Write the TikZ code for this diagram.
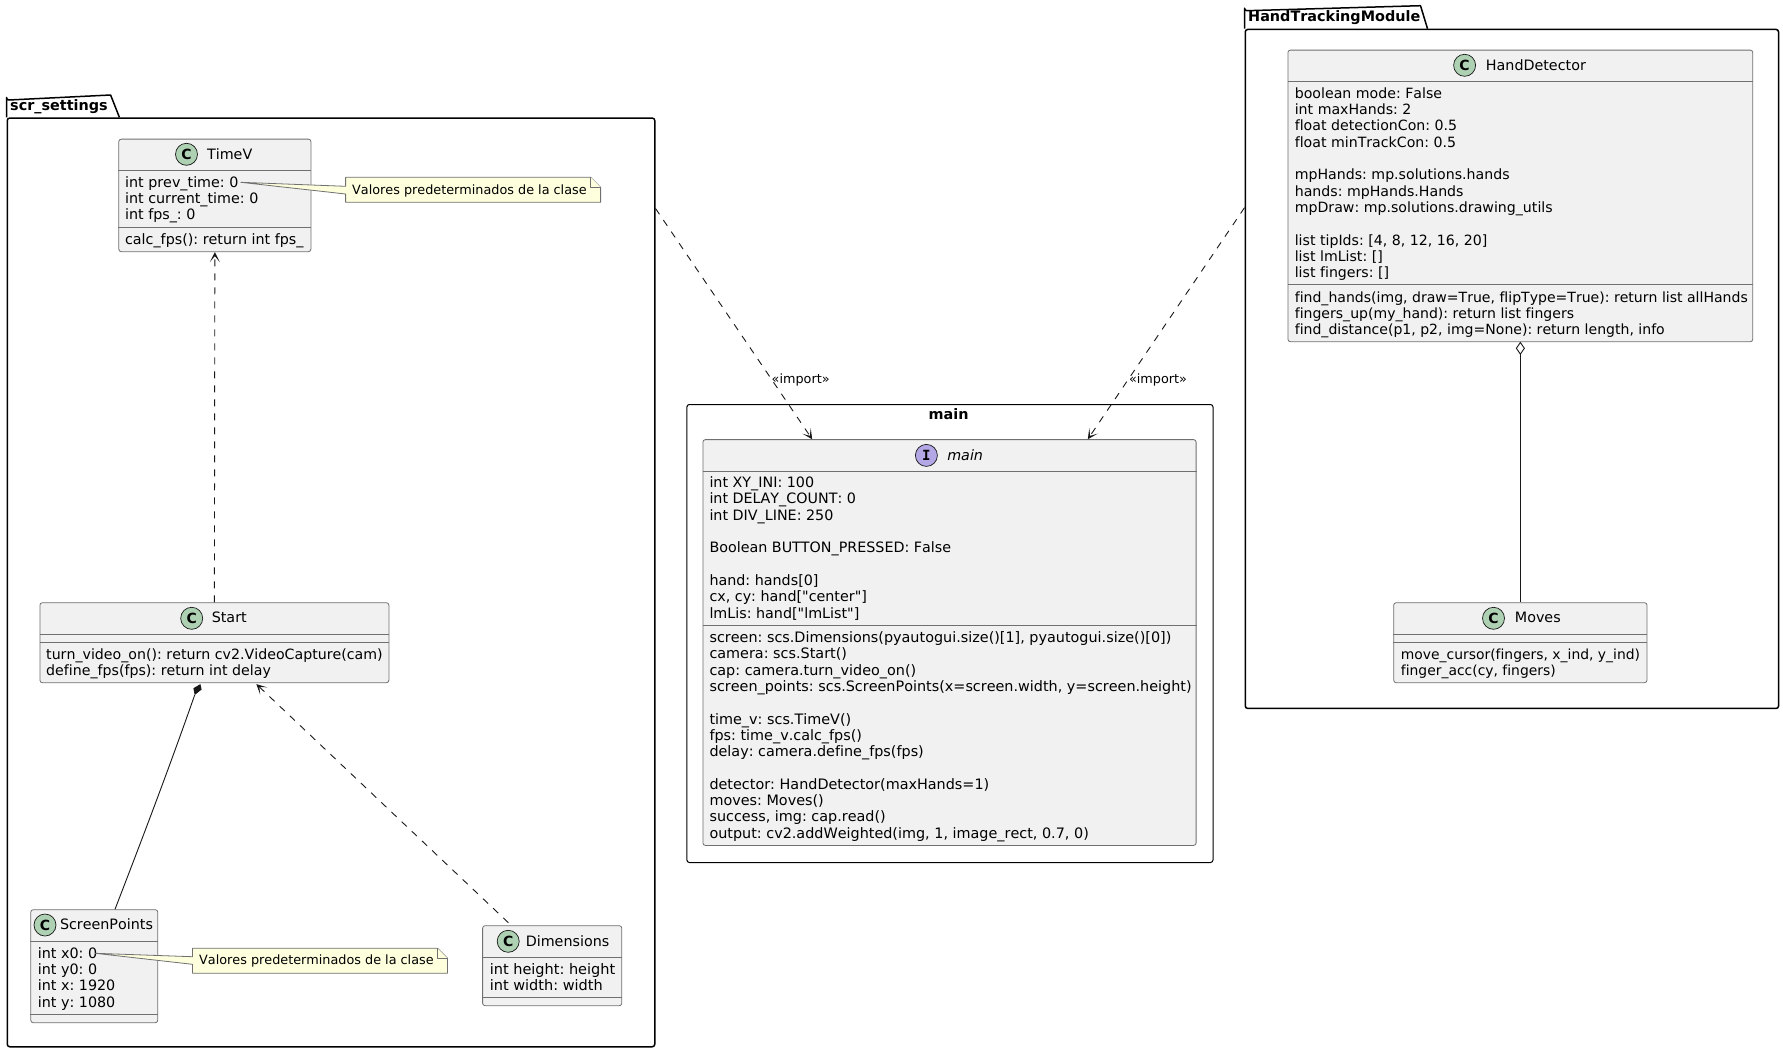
\documentclass[tikz,border=0pt]{standalone}
\usepackage{fontspec}
\usetikzlibrary{arrows.meta,calc}
\newfontfamily\djv{DejaVu Sans}[Ligatures=NoCommon,Kerning=Off]
\newfontfamily\djvm{DejaVu Sans Mono}[Ligatures=NoCommon]
\frenchspacing
\definecolor{ln}{HTML}{181818}
\definecolor{bdr}{HTML}{707070}
\definecolor{boxfill}{HTML}{F1F1F1}
\definecolor{circg}{HTML}{ADD1B2}
\definecolor{circp}{HTML}{B4A7E5}
\definecolor{notef}{HTML}{FEFFDD}
\newcommand\mystrut{\rule[-4pt]{0pt}{16.3pt}}
\tikzset{
  classbox/.style={draw=bdr,line width=.8pt,fill=boxfill,rounded corners=2.5pt,inner sep=0pt,anchor=north west},
  pkgbox/.style={draw=black,line width=1.5pt,rounded corners=2.5pt,inner sep=0pt,anchor=north west},
  mainbox/.style={draw=black,line width=1pt,rounded corners=2.5pt,inner sep=0pt,anchor=north west},
  fs/.style={font=\djv\fontsize{#1}{16.3}\selectfont},
  txt/.style={anchor=north west,inner sep=0pt,align=left,yshift=7.2pt,fs=14.3},
  namet/.style={txt,yshift=-1pt},
  ntxt/.style={anchor=west,inner sep=0pt,font=\djv\fontsize{12.8}{15}\selectfont},
  lbl/.style={anchor=center,inner sep=0pt,font=\djv\fontsize{12.8}{15}\selectfont},
  pkgtxt/.style={anchor=west,inner sep=0pt,font=\djv\bfseries\fontsize{14.4}{16}\selectfont},
  circg/.style={circle,draw=ln,line width=.7pt,fill=circg,inner sep=0pt,minimum size=22pt,font=\djv\bfseries\fontsize{14}{14}\selectfont},
  circi/.style={circle,draw=ln,line width=.7pt,fill=circp,inner sep=0pt,minimum size=22pt,font=\djvm\bfseries\fontsize{14}{14}\selectfont},
  sepl/.style={draw=bdr,line width=.8pt},
  notep/.style={draw=bdr,line width=.8pt,fill=notef,line join=round},
  dep/.style={draw=ln,line width=.9pt,dash pattern=on 7pt off 7pt,-{Stealth[length=10pt,width=10pt,inset=6pt]}},
  solid line/.style={draw=ln,line width=.9pt},
}
\newcommand\sepline[2]{\draw[sepl] (#1.west |- 0,#2) -- (#1.east |- 0,#2);}
\begin{document}
\begin{tikzpicture}[x=1pt,y=-1pt]
\useasboundingbox (0,0) rectangle (1783,1052);
\fill[white] (0,0) rectangle (1783,1052);

% packages
\node[pkgbox,minimum width=647.5pt,minimum height=928.7pt] (scr) at (6.5,117.3) {};
\draw[black,line width=1.5pt,line join=round] (6.5,117.3) -- (6.5,97.5) arc[start angle=180,end angle=90,radius=2.5] -- (110.6,95) -- (119.4,117.3);
\node[pkgtxt] (scrT) at (10,107) {scr\_settings};
\node[pkgbox,minimum width=533.3pt,minimum height=679pt] (htm) at (1244.5,28.7) {};
\draw[black,line width=1.5pt,line join=round] (1244.5,28.7) -- (1244.5,8.2) arc[start angle=180,end angle=90,radius=2.5] -- (1420.5,5.7) -- (1427.5,28.7);
\node[pkgtxt] (htmT) at (1248,18) {HandTrackingModule};
\node[mainbox,minimum width=526.1pt,minimum height=458pt] (mainb) at (686.4,404) {};
\node[anchor=center,inner sep=0pt,font=\djv\bfseries\fontsize{14.4}{16}\selectfont] (mainT) at (948.6,414.2) {main};

% TimeV
\node[classbox,minimum width=192.1pt,minimum height=112.6pt] (timev) at (118.4,138.7) {};
\sepline{timev}{170}\sepline{timev}{227}
\node[circg] (timevC) at (186.5,154.3) {C};
\node[namet] (timevN) at (206.9,154.3) {TimeV};
\node[txt] (timevA) at (124.9,182) {\mystrut int prev\_time: 0\\int current\_time: 0\\int fps\_: 0};
\node[txt] (timevM) at (124.9,239) {\mystrut calc\_fps(): return int fps\_};

% Start
\node[classbox,minimum width=349pt,minimum height=80pt] (start) at (39.5,602.3) {};
\sepline{start}{634.3}\sepline{start}{642.3}
\node[circg] (startC) at (191.7,618.3) {C};
\node[namet] (startN) at (211.6,618.3) {Start};
\node[txt,fs=14.18] (startM) at (46,654) {\mystrut turn\_video\_on(): return cv2.VideoCapture(cam)\\define\_fps(fps): return int delay};

% ScreenPoints
\node[classbox,minimum width=127pt,minimum height=113pt] (sp) at (30.4,909.3) {};
\sepline{sp}{941.3}\sepline{sp}{1014.3}
\node[circg] (spC) at (45,925) {C};
\node[namet] (spN) at (59.8,925) {ScreenPoints};
\node[txt] (spA) at (37.7,953) {\mystrut int x0: 0\\int y0: 0\\int x: 1920\\int y: 1080};

% Dimensions
\node[classbox,minimum width=139.2pt,minimum height=80pt] (dim) at (482.2,925.3) {};
\sepline{dim}{957.7}\sepline{dim}{997.3}
\node[circg] (dimC) at (508.2,941.3) {C};
\node[namet] (dimN) at (525.6,941.3) {Dimensions};
\node[txt,fs=14.5] (dimA) at (489.6,969) {\mystrut int height: height\\int width: width};

% main interface
\node[classbox,minimum width=493.2pt,minimum height=405.8pt] (iface) at (702.5,439.2) {};
\sepline{iface}{471.3}\sepline{iface}{625.3}
\node[circi] (ifaceC) at (926.4,455.4) {I};
\node[namet,font=\djv\itshape\fontsize{14.3}{16.3}\selectfont] (ifaceN) at (947.1,455.4) {main};
\node[txt] (ifaceA) at (709.3,482.3) {\mystrut int XY\_INI: 100\\int DELAY\_COUNT: 0\\int DIV\_LINE: 250\\[16.3pt]Boolean BUTTON\_PRESSED: False\\[16.3pt]hand: hands[0]\\cx, cy: hand["center"]\\lmLis: hand["lmList"]};
\node[txt,fs=14.38] (ifaceM) at (709.3,637.3) {\mystrut screen: scs.Dimensions(pyautogui.size()[1], pyautogui.size()[0])\\camera: scs.Start()\\cap: camera.turn\_video\_on()\\screen\_points: scs.ScreenPoints(x=screen.width, y=screen.height)\\[16.3pt]time\_v: scs.TimeV()\\fps: time\_v.calc\_fps()\\delay: camera.define\_fps(fps)\\[16.3pt]detector: HandDetector(maxHands=1)\\moves: Moves()\\success, img: cap.read()\\output: cv2.addWeighted(img, 1, image\_rect, 0.7, 0)};

% HandDetector
\node[classbox,minimum width=464.9pt,minimum height=291.6pt] (hand) at (1287.5,49.7) {};
\sepline{hand}{81.3}\sepline{hand}{284.3}
\node[circg] (handC) at (1464.6,65.3) {C};
\node[namet] (handN) at (1485.7,65.3) {HandDetector};
\node[txt,fs=14.15] (handA) at (1294.6,93) {\mystrut boolean mode: False\\int maxHands: 2\\float detectionCon: 0.5\\float minTrackCon: 0.5\\[16.3pt]mpHands: mp.solutions.hands\\hands: mpHands.Hands\\mpDraw: mp.solutions.drawing\_utils\\[16.3pt]list tipIds: [4, 8, 12, 16, 20]\\list lmList: []\\list fingers: []};
\node[txt,fs=14.05] (handM) at (1294.6,296.7) {\mystrut find\_hands(img, draw=True, flipType=True): return list allHands\\fingers\_up(my\_hand): return list fingers\\find\_distance(p1, p2, img=None): return length, info};

% Moves
\node[classbox,minimum width=253.3pt,minimum height=80pt] (moves) at (1393.3,602.3) {};
\sepline{moves}{634.3}\sepline{moves}{642.3}
\node[circg] (movesC) at (1493.5,618.3) {C};
\node[namet] (movesN) at (1514.7,618.3) {Moves};
\node[txt,fs=13.9] (movesM) at (1400.7,654) {\mystrut move\_cursor(fingers, x\_ind, y\_ind)\\finger\_acc(cy, fingers)};

% notes
\coordinate (tipA) at (240.7,182.3);
\draw[notep] (345.6,177.3) -- (590.6,177.3) -- (600.6,187.3) -- (600.6,202.3) -- (345.6,202.3) -- (345.6,194) -- (tipA) -- (345.6,186.3) -- cycle;
\draw[notep] (590.6,177.3) -- (590.6,187.3) -- (600.6,187.3);
\node[ntxt] (noteA) at (352,190.7) {Valores predeterminados de la clase};
\coordinate (tipB) at (95.4,953.3);
\draw[notep] (192.5,948.3) -- (437.5,948.3) -- (447.5,958.3) -- (447.5,973.3) -- (192.5,973.3) -- (192.5,964.3) -- (tipB) -- (192.5,956.7) -- cycle;
\draw[notep] (437.5,948.3) -- (437.5,958.3) -- (447.5,958.3);
\node[ntxt] (noteB) at (199,960.7) {Valores predeterminados de la clase};

% connectors
\draw[dep] (start.north) -- (timev.south);
\draw[dep] ($(dim.north west)!0.187!(dim.north east)+(0,-2.6)$) -- ($(start.south west)!0.62!(start.south east)+(0,1)$);
\coordinate (compTip) at ($(start.south west)!0.46!(start.south east)+(0,1)$);
\coordinate (compEnd) at (194.7,695);
\draw[solid line] (compEnd) .. controls (169.5,767) and (142.5,838) .. ($(sp.north west)!0.662!(sp.north east)$);
\fill[ln] (compTip) -- (201.6,689.5) -- (compEnd) -- (193.4,688.2) -- cycle;
\coordinate (aggTop) at ($(hand.south)+(0,.4)$);
\coordinate (aggEnd) at ($(hand.south)+(0,12)$);
\draw[solid line] (aggEnd) -- (moves.north);
\draw[draw=ln,line width=.9pt,fill=white] (aggTop) -- ($(aggTop)+(4,5.8)$) -- (aggEnd) -- ($(aggTop)+(-4,5.8)$) -- cycle;
\draw[dep] ($(scr.north east)!0.098!(scr.south east)$) -- ($(iface.north west)!0.222!(iface.north east)$);
\draw[dep] ($(htm.north west)!0.263!(htm.south west)$) -- ($(iface.north west)!0.78!(iface.north east)$);
\node[lbl] (imp1) at (800.7,379.7) {«import»};
\node[lbl] (imp2) at (1158,379.7) {«import»};
\end{tikzpicture}
\end{document}
